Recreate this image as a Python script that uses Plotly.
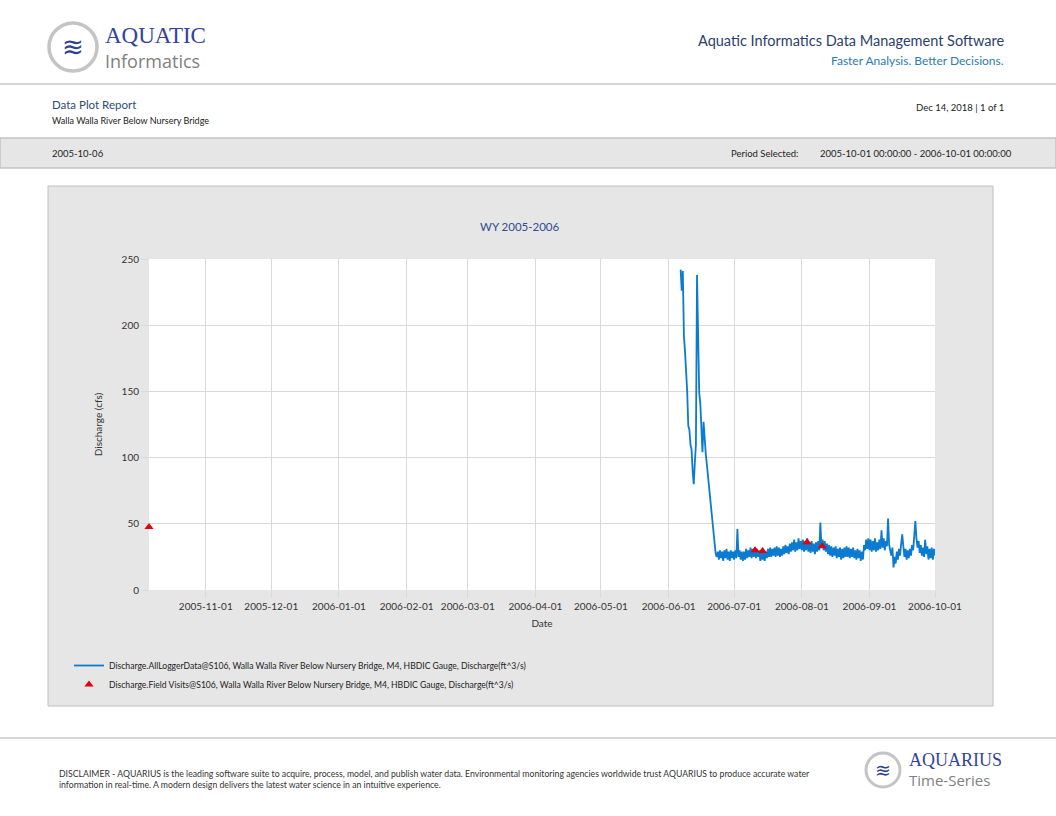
import pandas as pd
import plotly.graph_objects as go

# Logger discharge (cfs), 12-hourly from 2006-06-06 12:00 to 2006-10-01 00:00
logger_start = "2006-06-06 12:00"
logger_cfs = [
    # Jun 6 - Jun 22 (snowmelt recession)
    242, 226, 241, 192, 180, 166, 150, 124, 121, 110, 106, 90, 80, 96, 110, 238,
    176, 149, 141, 126, 104, 127, 111, 103, 95, 86, 77, 73, 61, 56, 44, 34, 28, 25,
    # Jun 23 - Jun 30
    29, 23, 30, 24, 29, 22, 30, 24, 31, 23, 29, 22, 30, 24, 29,
    # July
    23, 30, 24, 46, 25, 30, 23, 29, 22, 29, 23, 31, 24, 30, 25, 32,
    24, 31, 25, 32, 24, 31, 25, 30, 22, 29, 23, 28, 22, 29, 24, 31,
    25, 32, 25, 31, 26, 32, 25, 33, 26, 32, 25, 31, 26, 33, 27, 34,
    28, 33, 27, 35, 29, 36, 30, 38, 29, 36, 30, 39, 31, 37,
    # August
    30, 38, 29, 37, 30, 39, 29, 36, 28, 37, 29, 35, 27, 36, 29, 37,
    30, 51, 32, 38, 30, 37, 29, 35, 27, 34, 26, 33, 25, 32, 26, 33,
    24, 31, 25, 32, 23, 31, 24, 32, 25, 33, 25, 32, 24, 31, 25, 32,
    24, 30, 23, 31, 24, 30, 22, 29, 23, 34, 30, 38, 31, 39,
    # September
    30, 38, 29, 37, 30, 39, 29, 36, 30, 38, 31, 45, 32, 39, 30, 37,
    33, 54, 34, 31, 26, 32, 17, 25, 20, 29, 23, 31, 26, 35, 42, 33,
    25, 31, 23, 30, 24, 31, 26, 34, 30, 41, 52, 39, 32, 37, 28, 34,
    26, 32, 25, 38, 27, 33, 23, 31, 24, 32, 23, 31, 26,
]

# Field visit discharge measurements
visit_dates = ["2005-10-06", "2006-07-10 14:00", "2006-07-14", "2006-08-03 10:00", "2006-08-10 08:00"]
visit_cfs = [47.6, 30, 29.5, 36, 33]

x_range = ["2005-10-06", "2006-10-01"]
tick_dates = ["2005-11-01", "2005-12-01", "2006-01-01", "2006-02-01", "2006-03-01", "2006-04-01",
              "2006-05-01", "2006-06-01", "2006-07-01", "2006-08-01", "2006-09-01", "2006-10-01"]
y_ticks = [0, 50, 100, 150, 200, 250]

logger_times = pd.date_range(logger_start, periods=len(logger_cfs), freq="12h")

FONT = "Lato"
NAVY = "#2c3f6e"

# plot area in page pixels
L, R, T, B = 149, 935, 259, 590


def px(X):
    return (X - L) / (R - L)


def py(Y):
    return (B - Y) / (B - T)


fig = go.Figure()
fig.add_trace(go.Scatter(x=logger_times, y=logger_cfs, mode="lines",
                         line=dict(color="#0a7bd0", width=1.8),
                         name="Discharge.AllLoggerData@S106, Walla Walla River Below Nursery Bridge, M4, HBDIC Gauge, Discharge(ft^3/s)"))
fig.add_trace(go.Scatter(x=visit_dates, y=visit_cfs, mode="markers", cliponaxis=False,
                         marker=dict(symbol="triangle-up", color="#e3000f", size=8),
                         name="Discharge.Field Visits@S106, Walla Walla River Below Nursery Bridge, M4, HBDIC Gauge, Discharge(ft^3/s)"))

shapes = [
    # header rule, info bar, chart panel, plot area, footer rule
    dict(type="line", x0=px(0), x1=px(1056), y0=py(84), y1=py(84), line=dict(color="#c8c8c8", width=1.5)),
    dict(type="rect", x0=px(0), x1=px(1056), y0=py(168), y1=py(138), fillcolor="#e6e6e6",
         line=dict(color="#c4c4c4", width=1.5), layer="below"),
    dict(type="rect", x0=px(48), x1=px(993), y0=py(706), y1=py(186), fillcolor="#e6e6e6",
         line=dict(color="#c0c0c0", width=1), layer="below"),
    dict(type="rect", x0=0, x1=1, y0=0, y1=1, fillcolor="white", line=dict(width=0), layer="below"),
    dict(type="line", x0=px(0), x1=px(1056), y0=py(738), y1=py(738), line=dict(color="#c8c8c8", width=1.5)),
    # logo rings
    dict(type="circle", x0=px(49), x1=px(97), y0=py(71), y1=py(23), fillcolor="white",
         line=dict(color="#c4c4c4", width=3.5)),
    dict(type="circle", x0=px(866), x1=px(900), y0=py(787), y1=py(753), fillcolor="white",
         line=dict(color="#c4c4c4", width=3)),
]
for s in shapes:
    s.update(xref="paper", yref="paper")


def note(text, X, Y, size, color="#222222", xanchor="left", family=FONT, **kw):
    fig.add_annotation(text=text, x=px(X), y=py(Y), xref="paper", yref="paper", showarrow=False,
                       xanchor=xanchor, yanchor="middle", align=xanchor if xanchor != "center" else "center",
                       font=dict(family=family, size=size, color=color), **kw)


# header
note("≋", 73, 47, 26, color="#2b3f93", xanchor="center", family="DejaVu Sans")
note("AQUATIC", 103, 35, 23, color="#33449a", family="Liberation Serif")
note("Informatics", 103, 61, 18, color="#7f7f7f", family="Open Sans")
note("Aquatic Informatics Data Management Software", 1006, 41, 14.5, color=NAVY, xanchor="right")
note("Faster Analysis. Better Decisions.", 1006, 60, 12, color="#2a7cb8", xanchor="right")
note("Data Plot Report", 50, 104, 11.5, color="#2f4b7c")
note("Walla Walla River Below Nursery Bridge", 50, 120, 9)
note("Dec 14, 2018 | 1 of 1", 1006, 107, 9.5, xanchor="right")
note("2005-10-06", 50, 153, 9.5)
note("Period Selected:", 729, 153, 9.5)
note("2005-10-01 00:00:00 - 2006-10-01 00:00:00", 818, 153, 9.5)
note("WY 2005-2006", 520, 226, 11.5, color="#2e4c96", xanchor="center")

# footer
note("DISCLAIMER - AQUARIUS is the leading software suite to acquire, process, model, and publish water data. "
     "Environmental monitoring agencies worldwide trust AQUARIUS to produce accurate water<br>"
     "information in real-time. A modern design delivers the latest water science in an intuitive experience.",
     57, 779, 8.7, color="#333333")
note("≋", 883, 770, 19, color="#2b3f93", xanchor="center", family="DejaVu Sans")
note("AQUARIUS", 907, 760, 18, color="#33449a", family="Liberation Serif")
note("Time-Series", 907, 780, 15, color="#7f7f7f", family="Open Sans")

axis_style = dict(showgrid=True, gridcolor="#d9d9d9", gridwidth=1, zeroline=False, showline=False,
                  ticks="outside", tickcolor="#d9d9d9", ticklen=7,
                  tickfont=dict(family=FONT, size=10, color="#333333"))

fig.update_xaxes(type="date", range=x_range, tickvals=tick_dates, ticktext=tick_dates,
                 title=dict(text="Date", font=dict(family=FONT, size=10, color="#333333"), standoff=8),
                 **axis_style)
fig.update_yaxes(range=[0, 250], tickvals=y_ticks,
                 title=dict(text="Discharge (cfs)", font=dict(family=FONT, size=10, color="#333333"), standoff=17),
                 **axis_style)

fig.update_layout(
    width=1056, height=816,
    margin=dict(l=L, r=1056 - R, t=T, b=816 - B, autoexpand=False),
    paper_bgcolor="white", plot_bgcolor="white",
    shapes=shapes,
    showlegend=True,
    legend=dict(x=px(69), y=py(651), xanchor="left", yanchor="top", bgcolor="rgba(0,0,0,0)",
                itemwidth=30, tracegroupgap=0, font=dict(family=FONT, size=8.6, color="#222222")),
    font=dict(family=FONT),
)

fig.write_html("out.html", config={"displayModeBar": False},
               post_script="document.body.style.margin='0';")
